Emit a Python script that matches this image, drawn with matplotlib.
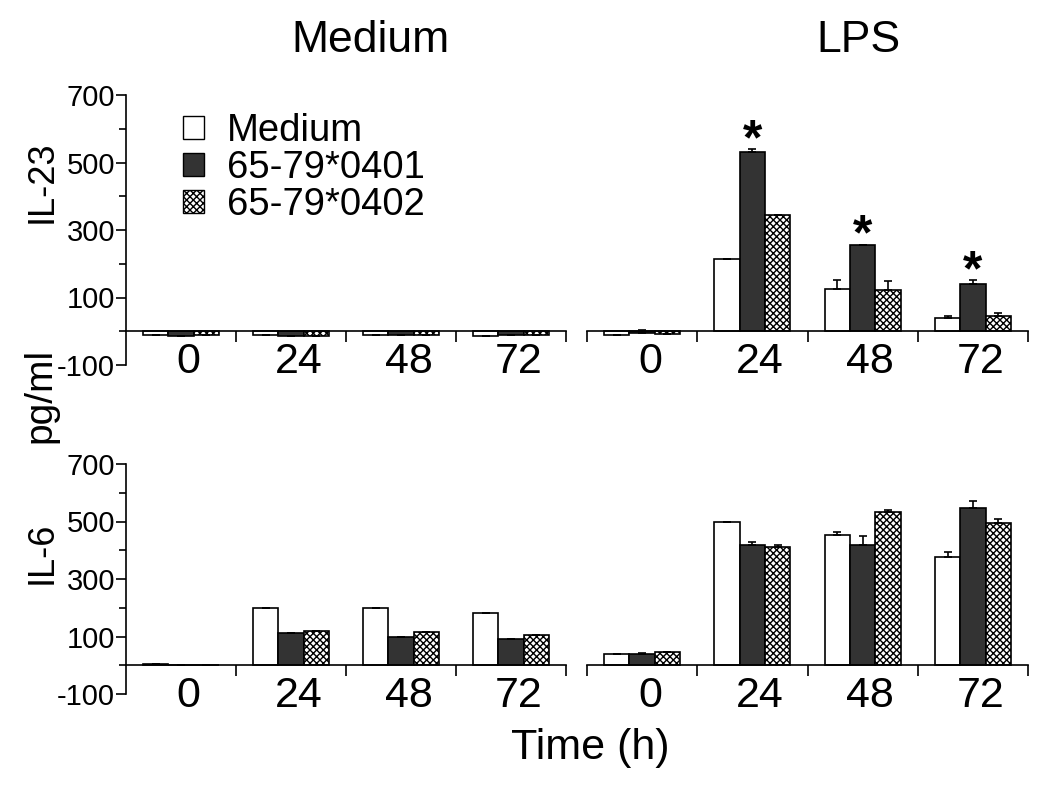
import numpy as np
import matplotlib
matplotlib.use("Agg")
import matplotlib.pyplot as plt
from matplotlib.patches import Patch

plt.rcParams['font.family'] = ['Liberation Sans', 'DejaVu Sans']
plt.rcParams['hatch.linewidth'] = 1.0
plt.rcParams['axes.unicode_minus'] = False

# Data (pg/ml)
times = ['0', '24', '48', '72']
series = ['Medium', '65-79*0401', '65-79*0402']

# IL-23, Medium condition
il23_med_medium = [-12, -11, -12, -13]
il23_med_0401 = [-13, -13, -12, -12]
il23_med_0402 = [-12, -13, -12, -12]
# IL-23, LPS condition
il23_lps_medium = [-10, 215, 126, 38]
il23_lps_0401 = [-6, 530, 257, 141]
il23_lps_0402 = [-7, 345, 123, 45]
il23_lps_medium_err = [0, 0, 27, 8]
il23_lps_0401_err = [9, 11, 0, 12]
il23_lps_0402_err = [0, 0, 27, 8]
il23_lps_star = [False, True, True, True]

# IL-6, Medium condition
il6_med_medium = [3, 199, 199, 181]
il6_med_0401 = [0, 113, 100, 90]
il6_med_0402 = [0, 119, 117, 105]
# IL-6, LPS condition
il6_lps_medium = [40, 497, 453, 377]
il6_lps_0401 = [40, 418, 418, 547]
il6_lps_0402 = [45, 413, 534, 496]
il6_lps_medium_err = [0, 0, 9, 17]
il6_lps_0401_err = [4, 9, 30, 25]
il6_lps_0402_err = [0, 6, 6, 12]

zeros = [0, 0, 0, 0]

fig = plt.figure(figsize=(10.5, 7.87), dpi=100)

W = 1050.0
H = 787.0
def box(x0, x1, ytop, ybot):
    return [x0 / W, 1 - ybot / H, (x1 - x0) / W, (ybot - ytop) / H]

ax_tl = fig.add_axes(box(126, 566, 95, 365))
ax_tr = fig.add_axes(box(587, 1028, 95, 365))
ax_bl = fig.add_axes(box(126, 566, 464, 694))
ax_br = fig.add_axes(box(587, 1028, 464, 694))

bw = 0.23
styles = [
    dict(color='white', edgecolor='black', hatch=None),
    dict(color='#333333', edgecolor='black', hatch=None),
    dict(color='white', edgecolor='black', hatch='xxxxx'),
]

def draw_panel(ax, vals, errs, left_axis):
    x = np.arange(len(times)) + 0.5
    for k, (v, e) in enumerate(zip(vals, errs)):
        st = styles[k]
        pos = x + (k - 1) * bw
        ax.bar(pos, v, bw, color=st['color'], edgecolor=st['edgecolor'],
               hatch=st['hatch'], linewidth=1.2, zorder=2)
        up = [ee if ee > 0 else 0 for ee in e]
        ax.errorbar(pos, v, yerr=[zeros, up], fmt='none', ecolor='black',
                    elinewidth=1.2, capsize=3, capthick=1.2, zorder=3)
    ax.set_xlim(0, 4)
    ax.set_ylim(-100, 700)
    ax.spines['top'].set_visible(False)
    ax.spines['right'].set_visible(False)
    ax.spines['bottom'].set_position(('data', 0))
    ax.spines['bottom'].set_linewidth(1.2)
    ax.set_xticks(x + 0.07)
    ax.set_xticklabels(times, fontsize=31)
    ax.tick_params(axis='x', which='major', length=0, pad=8)
    if left_axis:
        ax.set_xticks([1, 2, 3, 4], minor=True)
        ax.spines['left'].set_linewidth(1.2)
        ax.set_yticks([-100, 100, 300, 500, 700])
        ax.set_yticks([0, 200, 400, 600], minor=True)
        ax.tick_params(axis='y', which='major', length=7, width=1.2,
                       labelsize=21, pad=1)
        ax.tick_params(axis='y', which='minor', length=5, width=1.2)
    else:
        ax.set_xticks([0, 1, 2, 3, 4], minor=True)
        ax.spines['left'].set_visible(False)
        ax.set_yticks([])
    ax.tick_params(axis='x', which='minor', length=8, width=1.2, direction='out')
    ax.patch.set_alpha(0)

draw_panel(ax_tl, [il23_med_medium, il23_med_0401, il23_med_0402],
           [zeros, zeros, zeros], True)
draw_panel(ax_tr, [il23_lps_medium, il23_lps_0401, il23_lps_0402],
           [il23_lps_medium_err, il23_lps_0401_err, il23_lps_0402_err], False)
draw_panel(ax_bl, [il6_med_medium, il6_med_0401, il6_med_0402],
           [zeros, zeros, zeros], True)
draw_panel(ax_br, [il6_lps_medium, il6_lps_0401, il6_lps_0402],
           [il6_lps_medium_err, il6_lps_0401_err, il6_lps_0402_err], False)

# significance stars on the 65-79*0401 bars
for i, s in enumerate(il23_lps_star):
    if s:
        top = il23_lps_0401[i] + il23_lps_0401_err[i]
        ax_tr.annotate('*', (i + 0.5, top), xytext=(0, -11),
                       textcoords='offset points', ha='center', va='bottom',
                       fontsize=36, fontweight='bold')

# legend
handles = [Patch(facecolor=st['color'], edgecolor='black', hatch=st['hatch'],
                 linewidth=1.0) for st in styles]
ax_tl.legend(handles, series, loc='upper left', bbox_to_anchor=(0.095, 0.99),
             frameon=False, fontsize=27.5, handlelength=0.55, handleheight=0.55,
             handletextpad=0.6, labelspacing=0.03, borderaxespad=0)

fig.text(370 / W, 1 - 40 / H, 'Medium', fontsize=32, ha='center', va='center')
fig.text(858 / W, 1 - 40 / H, 'LPS', fontsize=32, ha='center', va='center')
fig.text(42 / W, 1 - 182 / H, 'IL-23', fontsize=26, rotation=90, ha='center', va='center')
fig.text(40 / W, 1 - 395 / H, 'pg/ml', fontsize=28, rotation=90, ha='center', va='center')
fig.text(42 / W, 1 - 553 / H, 'IL-6', fontsize=26, rotation=90, ha='center', va='center')
fig.text(590 / W, 1 - 748 / H, 'Time (h)', fontsize=31, ha='center', va='center')

fig.savefig('out.png', dpi=100)
